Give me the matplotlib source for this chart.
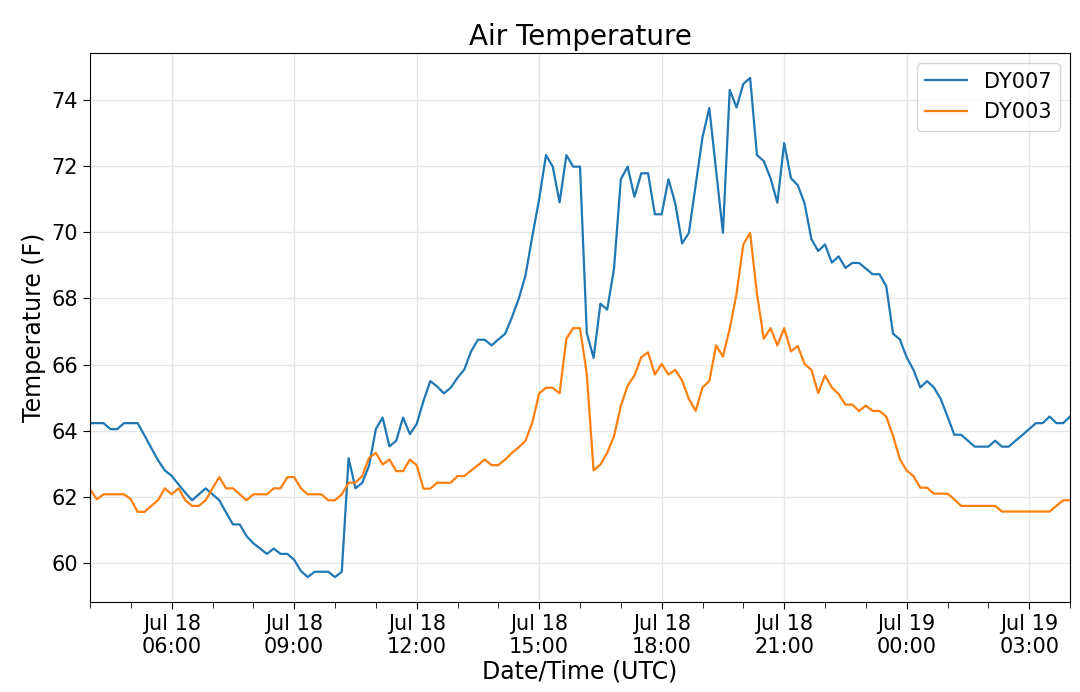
import matplotlib
matplotlib.use("Agg")
import matplotlib.pyplot as plt
import matplotlib.dates as mdates
import pandas as pd

# 10-minute samples, Jul 18 04:00 UTC to Jul 19 04:00 UTC
start_time = "2019-07-18 04:00"
n_points = 145
times = pd.date_range(start_time, periods=n_points, freq="10min")

dy007 = [
    64.23, 64.23, 64.23, 64.05, 64.05, 64.23, 64.23, 64.23,
    63.86, 63.48, 63.11, 62.80, 62.64, 62.38, 62.13, 61.90,
    62.08, 62.26, 62.08, 61.90, 61.53, 61.17, 61.17, 60.82,
    60.60, 60.44, 60.28, 60.44, 60.28, 60.28, 60.10, 59.76,
    59.58, 59.74, 59.74, 59.74, 59.58, 59.74, 63.17, 62.26,
    62.43, 62.94, 64.05, 64.40, 63.53, 63.70, 64.40, 63.90,
    64.20, 64.90, 65.50, 65.34, 65.13, 65.30, 65.60, 65.85,
    66.40, 66.75, 66.75, 66.58, 66.76, 66.93, 67.43, 67.99,
    68.70, 69.88, 71.00, 72.33, 71.98, 70.90, 72.33, 71.98,
    71.98, 66.95, 66.20, 67.84, 67.66, 68.90, 71.60, 71.98,
    71.07, 71.78, 71.78, 70.54, 70.54, 71.60, 70.87, 69.66,
    69.98, 71.42, 72.87, 73.75, 71.85, 69.98, 74.30, 73.77,
    74.48, 74.66, 72.33, 72.15, 71.63, 70.89, 72.69, 71.63,
    71.42, 70.87, 69.79, 69.43, 69.63, 69.08, 69.27, 68.92,
    69.07, 69.07, 68.90, 68.73, 68.73, 68.37, 66.93, 66.76,
    66.22, 65.84, 65.31, 65.50, 65.31, 64.96, 64.43, 63.88,
    63.88, 63.70, 63.52, 63.52, 63.52, 63.70, 63.52, 63.52,
    63.70, 63.87, 64.05, 64.23, 64.23, 64.43, 64.23, 64.23,
    64.43,
]

dy003 = [
    62.23, 61.93, 62.08, 62.08, 62.08, 62.08, 61.93, 61.55,
    61.55, 61.73, 61.90, 62.26, 62.08, 62.26, 61.90, 61.73,
    61.73, 61.90, 62.26, 62.60, 62.26, 62.26, 62.08, 61.90,
    62.08, 62.08, 62.08, 62.26, 62.26, 62.60, 62.60, 62.26,
    62.08, 62.08, 62.08, 61.90, 61.90, 62.08, 62.43, 62.43,
    62.63, 63.18, 63.33, 62.98, 63.13, 62.78, 62.78, 63.13,
    62.96, 62.25, 62.25, 62.43, 62.43, 62.43, 62.63, 62.63,
    62.80, 62.96, 63.13, 62.96, 62.96, 63.13, 63.33, 63.50,
    63.70, 64.25, 65.13, 65.30, 65.30, 65.13, 66.78, 67.10,
    67.10, 65.71, 62.80, 62.98, 63.33, 63.84, 64.75, 65.36,
    65.67, 66.22, 66.37, 65.70, 66.02, 65.70, 65.84, 65.52,
    64.96, 64.60, 65.31, 65.50, 66.58, 66.24, 67.08, 68.14,
    69.63, 69.98, 68.14, 66.78, 67.10, 66.58, 67.10, 66.40,
    66.56, 66.02, 65.84, 65.14, 65.67, 65.31, 65.11, 64.79,
    64.79, 64.60, 64.76, 64.60, 64.60, 64.43, 63.85, 63.14,
    62.80, 62.63, 62.28, 62.28, 62.10, 62.10, 62.10, 61.93,
    61.73, 61.73, 61.73, 61.73, 61.73, 61.73, 61.56, 61.56,
    61.56, 61.56, 61.56, 61.56, 61.56, 61.56, 61.73, 61.90,
    61.90,
]

series_labels = ["DY007", "DY003"]
title = "Air Temperature"
xlabel = "Date/Time (UTC)"
ylabel = "Temperature (F)"

fig = plt.figure(figsize=(10.8, 6.92), dpi=100)
ax = fig.add_axes([90 / 1080, 1 - 602 / 692, 980 / 1080, 549 / 692])

ax.plot(times, dy007, color="#1f77b4", lw=1.6, label=series_labels[0])
ax.plot(times, dy003, color="#ff7f0e", lw=1.6, label=series_labels[1])

ax.set_xlim(times[0], times[-1])
ax.xaxis.set_major_locator(mdates.HourLocator(byhour=range(0, 24, 3)))
ax.xaxis.set_minor_locator(mdates.HourLocator())
ax.xaxis.set_major_formatter(mdates.DateFormatter("%b %d\n%H:%M"))
for lbl in ax.get_xticklabels():
    lbl.set_horizontalalignment("center")

ax.grid(True, which="major", color="#e6e6e6", lw=1.0)
ax.tick_params(axis="both", which="major", labelsize=15, length=5)
ax.tick_params(axis="x", which="minor", length=4)

ax.set_title(title, fontsize=20)
ax.set_xlabel(xlabel, fontsize=17, labelpad=2)
ax.set_ylabel(ylabel, fontsize=17)
ax.legend(loc="upper right", fontsize=15)

fig.savefig("out.png", dpi=100)
